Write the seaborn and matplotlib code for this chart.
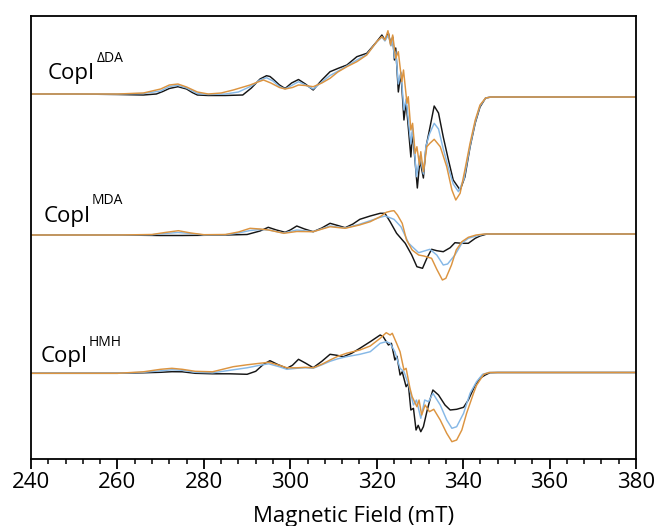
import numpy as np
import pandas as pd
import matplotlib
matplotlib.use("Agg")
import matplotlib.pyplot as plt
from matplotlib.ticker import MultipleLocator
import seaborn as sns

# ---------------- data (intensity in a.u.) ----------------
groups = ["ΔDA", "MDA", "HMH"]
samples = ["black", "blue", "orange"]
group_offsets = [365.0, 224.0, 85.7]

# --- CopI ΔDA ---
dda_black_field = [240, 250, 260, 266, 269, 270.5, 272, 274, 276, 277.3, 278.5, 281, 285, 289, 291, 292, 293,
                   294.5, 295.3, 296, 297.5,
                   298.8, 300.3, 301.9, 303.5, 305.3, 307.3, 309.2, 311.1, 313.1, 315.4, 317.7, 320, 321.2,
                   321.9, 322.7, 323.3, 323.7, 324.1, 324.4, 325.0, 325.6, 326.3, 326.8, 327.9, 328.3, 329.4,
                   330.0, 330.8, 331.4, 332.2, 333.3, 334.3, 335.4, 336.6, 337.7, 339.3, 340.4, 341.6, 342.8,
                   343.9, 345.2, 346.5, 360, 380]
dda_black_int = [0, 0, -0.5, -1, 0, 2.5, 5.5, 7.3, 5, 1.5, -1, -1.5, -1.5, -1, 6, 10.5, 15,
                 18.3, 17.5, 15, 9,
                 5.5, 11, 14.5, 10, 4, 14, 22.3, 25.7, 29, 37.3, 40.7, 52.3, 59,
                 54, 61, 49, 57, 34, 46, 2, 21, -26, -8, -63, -38, -94,
                 -66, -84, -53, -36, -12, -19, -43, -66, -86, -96, -83, -53, -29,
                 -13, -4, -3, -3, -3]

dda_blue_field = [240, 260, 266, 270, 272, 274, 276, 278.5, 281, 285, 288, 291, 293, 294.5, 296, 297.5,
                  298.8, 300.3, 301.9, 303.5, 305.3, 307.3, 309.2, 311.1, 313.1, 315.4, 317.7, 320, 321.2,
                  321.9, 322.7, 323.3, 323.7, 324.1, 324.4, 325.0, 325.6, 326.3, 326.8, 327.9, 328.3, 329.2,
                  330.0, 330.8, 331.4, 332.2, 333.3, 334.3, 335.4, 336.6, 337.7, 338.9, 340.2, 341.6, 342.8,
                  343.9, 345.2, 346.5, 380]
dda_blue_int = [0, 0, 0.5, 3, 7.5, 8.7, 6, 0.5, -0.5, 0, 2, 8, 14, 16.3, 13, 7.5,
                5, 8.5, 12.3, 9, 5, 12, 18.5, 23, 28, 34, 39.5, 52, 57,
                53, 59, 48, 55, 36, 42, 10, 22, -16, -5, -50, -34, -82.7,
                -62, -80, -52, -40, -29.3, -35, -55, -74, -90, -97.7, -85, -52, -28,
                -12, -4, -3, -3]

dda_orange_field = [240, 260, 266, 270, 272, 274, 276, 278.5, 281, 284, 286.8, 290.7, 292.5, 293.8, 295.5,
                    297.5, 298.8, 300.5, 301.9, 303.5, 305.3, 307.3, 309.2, 311, 313.1, 315.4, 317.7, 320,
                    321.2, 321.9, 322.6, 323.2, 323.7, 324.4, 325, 325.8, 326.2, 327.0, 327.3, 327.9, 328.3,
                    328.9, 329.3, 329.9, 330.2, 330.8, 331.6, 332.3, 333.3, 334.7, 336.2, 337.4, 338.3, 339.3,
                    340.4, 341.6, 342.8, 343.9, 345.2, 346.5, 380]
dda_orange_int = [0, 0, 1, 5, 9, 10, 7, 2, 0, 1, 4, 9, 12, 14, 11,
                  6.5, 5, 6.5, 9, 8.5, 7.3, 11, 15.7, 22, 27.3, 32.3, 39, 52.3,
                  57.3, 54, 63.3, 49, 59, 35.7, 42.3, 12.3, 24, -9.3, -2.7, -36, -29.3,
                  -59.3, -52.7, -71, -57.7, -77.7, -52.7, -49.3, -45.3, -52.7, -72.7, -96, -106, -99.3,
                  -76, -49.3, -26, -11, -4, -3, -3]

# --- CopI MDA ---
mda_black_field = [240, 260, 270, 275, 280, 285, 290, 293, 294.9, 296.8, 298.8, 300, 301.5, 303.3, 305.3,
                   307.3, 309.2, 311, 312.7, 314.5, 316.1, 318.5, 320.8, 321.9, 323.1, 324.6, 326.6, 328.1,
                   329.3, 330.6, 331.6, 332.7, 333.9, 335.4, 337, 338.1, 339.7, 341.2, 342.8, 343.9, 345.5,
                   347, 380]
mda_black_int = [0, 0, -0.5, -0.5, -0.3, 0, 0.5, 4, 7.7, 5, 2.7, 5, 9, 6, 3.3,
                 7, 11.7, 9.5, 7.3, 11, 15.7, 19, 21.7, 21.7, 13.3, 1.7, -8.3, -20,
                 -31.7, -33.3, -23.3, -14.3, -15.7, -16.7, -12.7, -7.7, -8.3, -8.3, -3.3, -1, 1,
                 1, 1]

mda_blue_field = [240, 260, 268, 271, 274, 277, 280, 285, 288, 290.7, 293, 295, 298.5, 301.5, 305.3,
                  309.2, 312.7, 316, 318.5, 320.8, 322, 324, 325.6, 327.4, 329.7, 331, 332.3, 333.9,
                  335.4, 336.4, 338.1, 339.7, 341.2, 343, 345, 380]
mda_blue_int = [0, 0, 0.3, 1.5, 2.5, 1.5, 0, 0.3, 2, 4.5, 5.5, 5, 2, 5, 3.3,
                9, 7, 10.7, 14.3, 17.7, 19, 15.7, 8.3, -8.3, -17.7, -16, -14.3, -20,
                -30, -29, -20, -8.3, -3.3, -1, 1, 1]

mda_orange_field = [240, 260, 268, 271, 274.1, 277, 280, 285, 288, 290.7, 293, 295, 298.5, 301.5, 305.3,
                    309.2, 312.7, 316, 318.5, 320.8, 322.2, 323.4, 324, 324.8, 325.9, 326.9, 328.2, 329.7,
                    330.9, 332.7, 333.9, 335.2, 336, 337.3, 338.4, 339.7, 341.2, 343, 345, 380]
mda_orange_int = [0, 0, 0.5, 2.5, 4.3, 2, 0.3, 0.5, 3, 6.7, 6, 5, 1.7, 3.5, 3.3,
                  8.3, 6.7, 10, 13.3, 18.3, 22.7, 24, 24.3, 20, 11.7, -5, -15, -20,
                  -21, -23.3, -34.3, -45, -43.3, -30, -15, -6.7, -2.3, 0, 1, 1]

# --- CopI HMH ---
hmh_black_field = [240, 260, 266, 270, 272.6, 275, 278, 282, 286, 290, 292, 293.8, 295.3, 297, 299.2,
                   300.5, 301.9, 303.6, 305.3, 307.3, 309.2, 310.8, 312.3, 314.2, 316.1, 318.5, 320.8, 321.5,
                   322.7, 323.4, 324.2, 324.7, 325.4, 325.9, 326.8, 327.3, 327.9, 328.5, 329.1, 329.6, 330.2,
                   330.8, 331.6, 332.3, 333, 334.3, 335.8, 337, 338.5, 340.1, 341.2, 342.8, 343.9, 345.1,
                   346.2, 348, 380]
hmh_black_int = [0, 0, 0.5, 1, 1.6, 1.5, 0, -0.5, -0.5, -1, 2, 9, 12.6, 9, 5,
                 8, 14, 10, 5.6, 12, 19, 18, 16.6, 20, 25, 31.6, 38.3, 36.6,
                 28.3, 30, 13.3, 17, -1.7, 1.5, -13.4, -10, -36.7, -35, -56.7, -52, -58.4,
                 -53.4, -38.4, -26.7, -16.7, -21.7, -31.7, -36.7, -36, -34, -26.7, -11.7, -5, -1.7,
                 0.6, 0.8, 0.8]

hmh_blue_field = [240, 260, 266, 270, 272.6, 275, 278, 282, 286.8, 290, 292.9, 295, 297.5, 299.2, 301.5,
                  303.5, 305.3, 307.3, 309.2, 311, 313, 316.1, 318.5, 320.8, 322.2, 323.1, 324.2, 325.4,
                  326.3, 327.4, 328.5, 329.2, 330.2, 331.1, 332, 333, 334.7, 336.2, 337.4, 338.5, 340.1,
                  341.6, 343.1, 344.5, 346, 380]
hmh_blue_int = [0, 0, 1, 2.5, 3.5, 3, 1, 0.5, 3.5, 5.5, 8, 9.5, 6.5, 4, 5,
                5.5, 5, 8.5, 12, 14.5, 16.6, 19, 21.6, 30, 31.6, 30, 21.6, 5,
                1.6, -11.7, -31.7, -26.7, -45, -26.7, -28.4, -20, -31.7, -46.7, -55, -53.4, -40,
                -20, -8.4, -1, 0.8, 0.8]

hmh_orange_field = [240, 260, 266, 270, 272.6, 275, 278, 282, 286.8, 290, 292.9, 295, 297.5, 299.2, 301.5,
                    303.5, 305.3, 307.3, 309.2, 311, 313, 316.1, 318.5, 320.8, 322.2, 323.1, 323.6, 324.6,
                    325.4, 326.3, 326.8, 327.7, 328.2, 329.3, 329.8, 330.4, 331.2, 332.2, 333.2, 334.7, 336.2,
                    337.4, 338.5, 339.7, 340.8, 342.4, 343.1, 343.9, 344.8, 346, 380]
hmh_orange_int = [0, 0, 1.5, 4, 5, 4, 2, 1.5, 6.6, 8.5, 10, 11, 8, 5.5, 5.5,
                  6, 5.5, 9, 13.3, 17, 20, 23.3, 27.3, 35, 40.6, 38.3, 40, 30,
                  21.6, 3.3, 5, -15, -23.4, -33.4, -26.7, -41.7, -31.7, -38.4, -36, -46.7, -60,
                  -68.4, -66.7, -56.7, -40, -20, -12, -6.7, -1, 0.8, 0.8]

x_ticks = [240, 260, 280, 300, 320, 340, 360, 380]
x_label = "Magnetic Field (mT)"
label_main = "CopI"
sup_texts = ["ΔDA", "MDA", "HMH"]

# ---------------- assemble long table ----------------
series = {
    ("ΔDA", "black"): (dda_black_field, dda_black_int),
    ("ΔDA", "blue"): (dda_blue_field, dda_blue_int),
    ("ΔDA", "orange"): (dda_orange_field, dda_orange_int),
    ("MDA", "black"): (mda_black_field, mda_black_int),
    ("MDA", "blue"): (mda_blue_field, mda_blue_int),
    ("MDA", "orange"): (mda_orange_field, mda_orange_int),
    ("HMH", "black"): (hmh_black_field, hmh_black_int),
    ("HMH", "blue"): (hmh_blue_field, hmh_blue_int),
    ("HMH", "orange"): (hmh_orange_field, hmh_orange_int),
}
rows = []
for (g, s), (fx, iy) in series.items():
    off = group_offsets[groups.index(g)]
    for a, b in zip(fx, iy):
        rows.append({"field": a, "signal": b + off, "group": g, "sample": s})
df = pd.DataFrame(rows)

# ---------------- styling ----------------
sns.set_style("white")
plt.rcParams["font.family"] = ["Open Sans", "DejaVu Sans"]
plt.rcParams["text.color"] = "black"
plt.rcParams["axes.labelcolor"] = "black"
plt.rcParams["xtick.color"] = "black"
plt.rcParams["ytick.color"] = "black"

W, H = 656, 526
fig = plt.figure(figsize=(W / 100, H / 100), dpi=100)
ax = fig.add_axes([31 / W, 1 - 459 / H, 605 / W, 443.5 / H])

palette = {"black": "#151515", "blue": "#86b8e6", "orange": "#dc9440"}
for s in samples:
    sub = df[df["sample"] == s]
    sns.lineplot(data=sub, x="field", y="signal", units="group", estimator=None,
                 color=palette[s], lw=1.05, ax=ax, legend=False)

ax.set_xlim(240, 380)
ax.set_ylim(0, 443.5)
ax.set_xticks(x_ticks)
ax.xaxis.set_minor_locator(MultipleLocator(4))
ax.set_yticks([])
ax.set_ylabel("")
ax.set_xlabel(x_label, fontsize=16, color="black")
ax.xaxis.set_label_coords(0.533, -0.105)
ax.tick_params(axis="x", which="major", direction="out", length=7, width=1.3, pad=2.5,
               labelsize=16, bottom=True, top=False, color="black", labelcolor="black")
ax.tick_params(axis="x", which="minor", direction="out", length=3.5, width=1.1,
               bottom=True, top=False, color="black")
for sp in ax.spines.values():
    sp.set_visible(True)
    sp.set_color("black")
    sp.set_linewidth(1.3)

# group labels
main_pos = [(48, 79), (44, 222), (41, 362)]
sup_pos = [(96.5, 62.5), (91.5, 204.5), (88.5, 345.5)]
for (mx, my), (sx, sy), st in zip(main_pos, sup_pos, sup_texts):
    fig.text(mx / W, 1 - my / H, label_main, fontsize=16, ha="left", va="baseline", color="black")
    fig.text(sx / W, 1 - sy / H, st, fontsize=10, ha="left", va="baseline", color="black")

fig.savefig("out.png", dpi=100)
